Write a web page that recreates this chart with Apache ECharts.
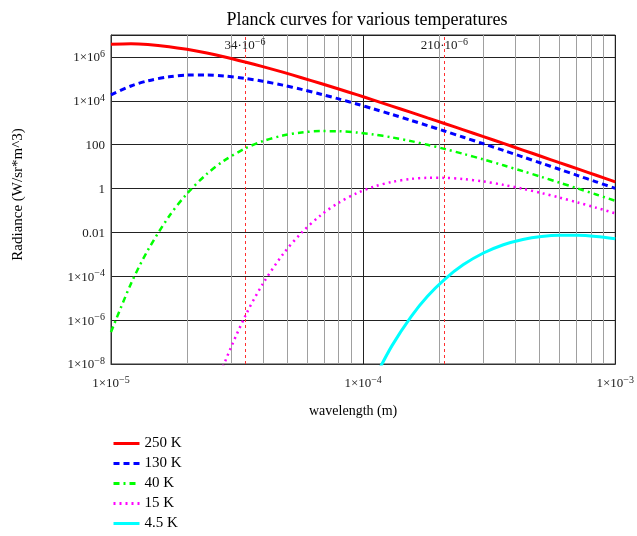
<!DOCTYPE html>
<html>
<head>
<meta charset="utf-8">
<script src="https://cdn.jsdelivr.net/npm/echarts@6/dist/echarts.min.js"></script>
<style>
  html, body { margin: 0; padding: 0; background: #fff; }
  #chart { width: 637px; height: 536px; }
</style>
</head>
<body>
<div id="chart"></div>
<script>
// wavelength (m) and radiance (W/sr*m^3)
var wavelength = [1.0e-5, 1.2e-5, 1.4e-5, 1.7e-5, 2.0e-5, 2.4e-5, 2.8e-5, 3.4e-5, 4.0e-5, 4.8e-5, 5.7e-5, 6.8e-5, 8.0e-5, 9.5e-5,
  1.1e-4, 1.3e-4, 1.55e-4, 1.8e-4, 2.1e-4, 2.5e-4, 3.0e-4, 3.6e-4, 4.3e-4, 5.1e-4, 6.0e-4, 7.1e-4, 8.4e-4, 1.0e-3];
var k250 = [3.78e6, 3.99e6, 3.69e6, 2.94e6, 2.22e6, 1.50e6, 1.02e6, 5.9e5, 3.62e5, 2.02e5, 1.13e5, 6.15e4, 3.45e4, 1.85e4,
  1.08e4, 5760, 2960, 1670, 925, 471, 232, 114, 56.6, 28.9, 15.2, 7.82, 4.02, 2.01];
var k130 = [1.86e4, 4.73e4, 8.17e4, 1.25e5, 1.48e5, 1.50e5, 1.36e5, 1.05e5, 7.80e4, 5.18e4, 3.32e4, 2.00e4, 1.22e4, 6980,
  4260, 2390, 1280, 742, 420, 219, 110, 54.7, 27.6, 14.2, 7.56, 3.91, 2.02, 1.02];
var k40 = [2.84e-7, 4.59e-5, 1.54e-3, 0.0543, 0.575, 4.63, 18.2, 66.7, 145, 260, 360, 415, 410, 357,
  292, 215, 145, 98.9, 64.2, 37.9, 21.2, 11.5, 6.19, 3.37, 1.87, 1.00, 0.533, 0.275];
var k15 = [null, null, null, null, null, 6.6e-11, 9.2e-9, 1.47e-6, 4.48e-5, 9.8e-4, 9.73e-3, 0.0613, 0.226, 0.634,
  1.21, 2.00, 2.74, 3.07, 3.06, 2.69, 2.09, 1.47, 0.975, 0.621, 0.388, 0.231, 0.134, 0.074];
var k4_5 = [null, null, null, null, null, null, null, null, null, null, null, null, null, null,
  1.8e-9, 6.7e-8, 1.46e-6, 1.22e-5, 7.12e-5, 3.40e-4, 1.15e-3, 2.74e-3, 4.78e-3, 6.55e-3, 7.46e-3, 7.39e-3, 6.48e-3, 5.08e-3];

var seriesNames = ['250 K', '130 K', '40 K', '15 K', '4.5 K'];
var minorTicks = [2e-5, 3e-5, 4e-5, 5e-5, 6e-5, 7e-5, 8e-5, 9e-5, 2e-4, 3e-4, 4e-4, 5e-4, 6e-4, 7e-4, 8e-4, 9e-4];
var markers = [3.4e-5, 2.1e-4];
var markerLabels = ['34', '210'];
var yMin = 1e-8, yMax = 1e7;

var serif = 'Liberation Serif';

function pairs(vals) {
  var out = [];
  for (var i = 0; i < wavelength.length; i++) {
    if (vals[i] != null) out.push([wavelength[i], vals[i]]);
  }
  return out;
}

function sciLabel(v, plainSmall) {
  var e = Math.round(Math.log10(v));
  if (plainSmall && e === 2) return '{b|100}';
  if (plainSmall && e === 0) return '{b|1}';
  if (plainSmall && e === -2) return '{b|0.01}';
  return '{b|1×10}{s|' + (e < 0 ? '−' + (-e) : e) + '}';
}

// vertical line across the whole plot (log axes break the xAxis-only form)
function vLine(x) {
  return [{ coord: [x, yMin] }, { coord: [x, yMax] }];
}

var richText = {
  b: { fontFamily: serif, fontSize: 13, color: '#1a1a1a', lineHeight: 15, verticalAlign: 'bottom' },
  s: { fontFamily: serif, fontSize: 10, color: '#1a1a1a', lineHeight: 10, verticalAlign: 'top' }
};

var styles = [
  { color: '#ff0000', width: 3, type: 'solid' },
  { color: '#0000ff', width: 3, type: [6, 4] },
  { color: '#00ff00', width: 2.5, type: [6, 4, 2, 4] },
  { color: '#ff00ff', width: 2.5, type: [2, 4] },
  { color: '#00ffff', width: 3, type: 'solid' }
];
var allData = [k250, k130, k40, k15, k4_5];

var series = allData.map(function (vals, i) {
  return {
    name: seriesNames[i],
    type: 'line',
    data: pairs(vals),
    smooth: 0.3,
    showSymbol: false,
    symbol: 'none',
    lineStyle: styles[i],
    itemStyle: { color: styles[i].color },
    z: 10 - i
  };
});

// minor grid lines (on the lowest series) and the two marker lines
series[4].markLine = {
  silent: true,
  symbol: 'none',
  animation: false,
  label: { show: false },
  lineStyle: { color: '#a0a0a0', width: 1, type: 'solid' },
  data: minorTicks.map(vLine)
};
series[0].markLine = {
  silent: true,
  symbol: 'none',
  animation: false,
  label: { show: false },
  lineStyle: { color: '#ff3030', width: 1, type: [3, 3] },
  data: markers.map(vLine)
};
series[0].markPoint = {
  silent: true,
  symbol: 'circle',
  symbolSize: 0,
  label: {
    show: true,
    position: 'inside',
    formatter: function (p) { return '{b|' + markerLabels[p.dataIndex] + '·10}{s|−6}'; },
    rich: richText
  },
  data: markers.map(function (x) { return { coord: [x, 3.6e6] }; })
};

var chart = echarts.init(document.getElementById('chart'));
chart.setOption({
  animation: false,
  backgroundColor: '#fff',
  title: {
    text: 'Planck curves for various temperatures',
    left: 362,
    textAlign: 'center',
    top: 6,
    textStyle: { fontFamily: serif, fontSize: 18, fontWeight: 'normal', color: '#000' }
  },
  legend: {
    data: seriesNames,
    orient: 'vertical',
    left: 112,
    top: 436,
    height: 110,
    padding: 0,
    itemWidth: 26,
    itemHeight: 14,
    itemGap: 5,
    itemStyle: { opacity: 0 },
    lineStyle: { width: 3 },
    textStyle: { fontFamily: serif, fontSize: 15, color: '#000' }
  },
  grid: {
    left: 111, right: 21, top: 35, bottom: 172,
    show: true, borderColor: '#333', borderWidth: 1
  },
  xAxis: {
    type: 'log',
    logBase: 10,
    min: 1e-5,
    max: 1e-3,
    name: 'wavelength (m)',
    nameLocation: 'middle',
    nameGap: 40,
    nameTextStyle: { fontFamily: serif, fontSize: 14, color: '#000', padding: [0, 20, 0, 0] },
    axisLine: { lineStyle: { color: '#333' } },
    axisTick: { show: false },
    axisLabel: {
      margin: 11,
      formatter: function (v) { return sciLabel(v, false); },
      rich: richText
    },
    splitLine: { show: true, lineStyle: { color: '#222', width: 1 } }
  },
  yAxis: {
    type: 'log',
    logBase: 100,
    min: yMin,
    max: yMax,
    name: 'Radiance (W/sr*m^3)',
    nameLocation: 'middle',
    nameRotate: 90,
    nameGap: 85,
    nameTextStyle: { fontFamily: serif, fontSize: 15, color: '#000', padding: [0, 0, 0, 10] },
    axisLine: { lineStyle: { color: '#333' } },
    axisTick: { show: false },
    axisLabel: {
      margin: 6,
      formatter: function (v) { return v > 5e6 ? '' : sciLabel(v, true); },
      rich: richText
    },
    splitLine: { show: true, lineStyle: { color: '#222', width: 1 } }
  },
  series: series
});
</script>
</body>
</html>
